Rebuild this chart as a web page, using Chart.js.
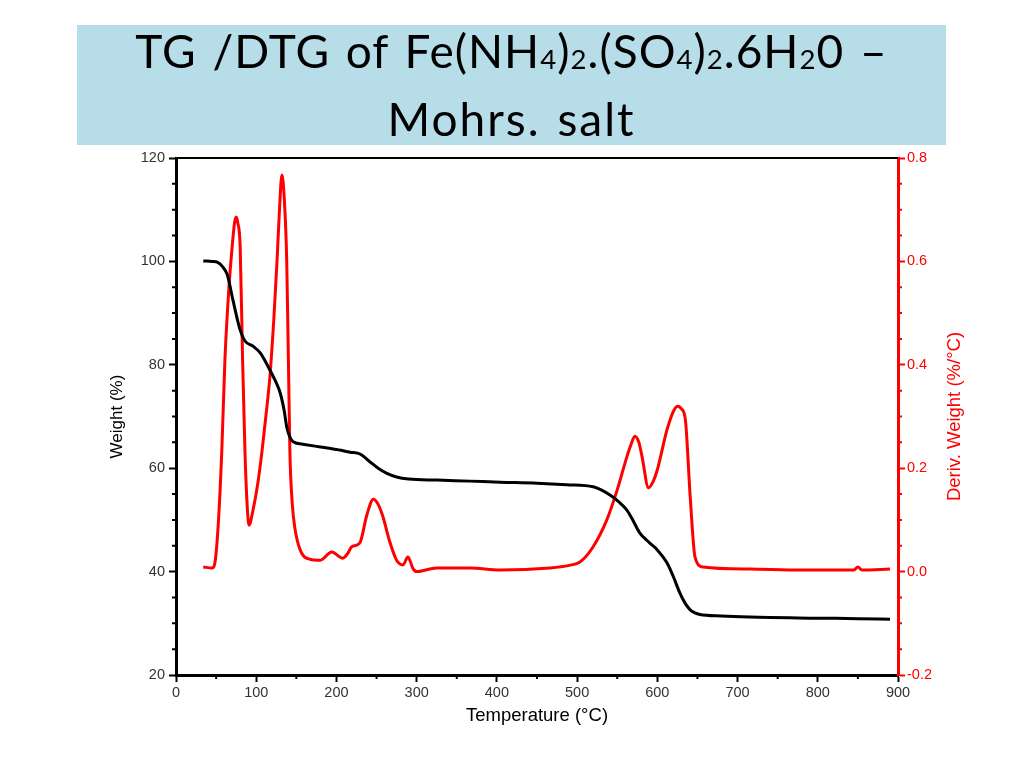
<!DOCTYPE html>
<html>
<head>
<meta charset="utf-8">
<script src="https://cdn.jsdelivr.net/npm/chart.js@4"></script>
<style>
  body { margin: 0; width: 1024px; height: 768px; overflow: hidden; background: #fff; position: relative; }
  #chart { position: absolute; left: 0; top: 0; }
  #titleBox { position: absolute; left: 77px; top: 25px; width: 869px; height: 120px; background: #b7dee8; }
  #title {
    position: absolute; left: 77px; top: 17px; width: 869px; text-align: center;
    font-family: Lato, "Open Sans", sans-serif; font-size: 46px; line-height: 68px; color: #000;
  }
  #title .l1 { letter-spacing: 1px; word-spacing: 3px; }
  #title .l2 { letter-spacing: 2px; word-spacing: 3px; }
  #title .s { font-size: 0.6em; vertical-align: -0.04em; line-height: 0; }
</style>
</head>
<body>
<canvas id="chart" width="1024" height="768"></canvas>
<div id="titleBox"></div>
<div id="title"><span class="l1">TG /DTG of Fe(NH<span class="s">4</span>)<span class="s">2</span>.(SO<span class="s">4</span>)<span class="s">2</span>.6H<span class="s">2</span>0 –</span><br><span class="l2">Mohrs. salt</span></div>
<script>
// TG curve (weight %, left axis)
const tgTemp   = [34, 45, 52, 58, 64, 71, 80, 86, 96, 105, 117, 125, 130, 135, 138, 142, 146, 160, 180, 200, 217, 230, 242, 252, 263, 275, 290, 325, 366, 404, 450, 487, 520, 530, 541, 552, 562, 570, 578, 590, 600, 612, 620, 628, 635, 641, 647, 653, 680, 715, 800, 850, 890];
const tgWeight = [100.1, 100.0, 99.8, 99.0, 97.4, 92.5, 86.7, 84.6, 83.6, 82.3, 79.0, 76.5, 74.5, 71.0, 68.0, 66.0, 65.1, 64.6, 64.1, 63.6, 63.1, 62.7, 61.2, 60.0, 59.0, 58.3, 57.9, 57.7, 57.5, 57.3, 57.1, 56.8, 56.4, 55.8, 54.8, 53.5, 51.9, 49.8, 47.5, 45.6, 44.2, 41.7, 39.0, 35.9, 33.8, 32.6, 32.0, 31.7, 31.4, 31.2, 31.0, 30.9, 30.8];

// DTG curve (deriv. weight %/°C, right axis)
const dtgTemp  = [34, 45, 49, 53, 57, 61, 66, 70, 73, 75, 77, 80, 83, 86, 89, 91, 96, 102, 107, 112, 117, 122, 126, 129, 132, 135, 138, 140, 142, 145, 148, 155, 167, 180, 194, 208, 214, 219, 229, 238, 246, 252, 258, 266, 275, 283, 289, 292, 295, 300, 325, 366, 404, 466, 490, 504, 520, 537, 550, 562, 567, 572, 577, 581, 589, 595, 600, 612, 620, 625, 630, 635, 641, 647, 657, 715, 780, 845, 850, 855, 890];
const dtgDeriv = [0.009, 0.007, 0.022, 0.10, 0.23, 0.41, 0.55, 0.628, 0.675, 0.686, 0.675, 0.628, 0.41, 0.23, 0.12, 0.09, 0.119, 0.171, 0.23, 0.30, 0.376, 0.49, 0.603, 0.70, 0.767, 0.72, 0.603, 0.42, 0.23, 0.13, 0.086, 0.041, 0.024, 0.022, 0.038, 0.026, 0.035, 0.048, 0.055, 0.11, 0.14, 0.13, 0.106, 0.06, 0.022, 0.013, 0.028, 0.02, 0.007, 0.0, 0.007, 0.007, 0.003, 0.007, 0.012, 0.019, 0.048, 0.10, 0.158, 0.222, 0.245, 0.262, 0.25, 0.222, 0.162, 0.175, 0.197, 0.274, 0.31, 0.32, 0.315, 0.293, 0.144, 0.028, 0.009, 0.005, 0.003, 0.003, 0.009, 0.003, 0.005];

const xTicks = [0, 100, 200, 300, 400, 500, 600, 700, 800, 900];

const tgPoints = tgTemp.map((t, i) => ({ x: t, y: tgWeight[i] }));
const dtgPoints = dtgTemp.map((t, i) => ({ x: t, y: dtgDeriv[i] }));

const RED = '#ff0000';
const FONT = '"Liberation Sans", Arial, sans-serif';
const TICK_FONT = { family: FONT, size: 14.5 };

// minor ticks, top border line and right axis title
const extras = {
    id: 'extras',
    afterDraw(chart) {
        const ctx = chart.ctx;
        const a = chart.chartArea;
        const sx = chart.scales.x, sy = chart.scales.y, sy1 = chart.scales.y1;
        ctx.save();
        ctx.lineWidth = 2;

        ctx.strokeStyle = '#000';
        ctx.beginPath();
        ctx.moveTo(a.left - 1, a.top);
        ctx.lineTo(a.right, a.top);
        ctx.stroke();

        ctx.beginPath();
        for (let v = 25; v < 120; v += 5) {
            if (v % 20 === 0) continue;
            const py = sy.getPixelForValue(v);
            ctx.moveTo(a.left - 4, py);
            ctx.lineTo(a.left, py);
        }
        for (let v = 50; v < 900; v += 100) {
            const px = sx.getPixelForValue(v);
            ctx.moveTo(px, a.bottom);
            ctx.lineTo(px, a.bottom + 4);
        }
        ctx.stroke();

        ctx.strokeStyle = RED;
        ctx.beginPath();
        for (let k = -3; k < 16; k++) {
            if (k % 4 === 0) continue;
            const py = sy1.getPixelForValue(k * 0.05);
            ctx.moveTo(a.right, py);
            ctx.lineTo(a.right + 4, py);
        }
        ctx.stroke();

        ctx.translate(a.right + 57, (a.top + a.bottom) / 2);
        ctx.rotate(-Math.PI / 2);
        ctx.fillStyle = RED;
        ctx.font = '18.5px ' + FONT;
        ctx.textAlign = 'center';
        ctx.textBaseline = 'middle';
        ctx.fillText('Deriv. Weight (%/°C)', 0, 0);
        ctx.restore();
    }
};

new Chart(document.getElementById('chart'), {
    type: 'line',
    data: {
        datasets: [{
            label: 'TG',
            data: tgPoints,
            yAxisID: 'y',
            borderColor: '#000',
            borderWidth: 3,
            pointRadius: 0,
            cubicInterpolationMode: 'monotone'
        }, {
            label: 'DTG',
            data: dtgPoints,
            yAxisID: 'y1',
            borderColor: RED,
            borderWidth: 3,
            pointRadius: 0,
            cubicInterpolationMode: 'monotone'
        }]
    },
    options: {
        responsive: false,
        animation: false,
        layout: { padding: { left: 103, right: 0, top: 158, bottom: 37 } },
        plugins: { legend: { display: false }, tooltip: { enabled: false } },
        scales: {
            x: {
                type: 'linear',
                min: 0, max: 900,
                afterFit: function(s) { s.height = 56; },
                afterBuildTicks: function(s) { s.ticks = xTicks.map(v => ({ value: v })); },
                border: { color: '#000', width: 3 },
                grid: { drawOnChartArea: false, tickLength: 7, tickWidth: 2, tickColor: '#000' },
                ticks: { color: '#333', font: TICK_FONT, padding: 2, maxRotation: 0, autoSkip: false },
                title: { display: true, text: 'Temperature (°C)', color: '#000', font: { family: FONT, size: 18.5 } }
            },
            y: {
                position: 'left',
                min: 20, max: 120,
                afterFit: function(s) { s.width = 73; },
                border: { color: '#000', width: 3 },
                grid: { drawOnChartArea: false, tickLength: 7, tickWidth: 2, tickColor: '#000' },
                ticks: { stepSize: 20, color: '#333', font: TICK_FONT, padding: 4 },
                title: { display: true, text: 'Weight (%)', color: '#000', font: { family: FONT, size: 17 } }
            },
            y1: {
                position: 'right',
                min: -0.2, max: 0.8,
                afterFit: function(s) { s.width = 126; },
                border: { color: RED, width: 3 },
                grid: { drawOnChartArea: false, tickLength: 7, tickWidth: 2, tickColor: RED },
                ticks: { stepSize: 0.2, color: RED, font: TICK_FONT, padding: 2,
                         callback: function(v) { return v.toFixed(1); } }
            }
        }
    },
    plugins: [extras]
});
</script>
</body>
</html>
